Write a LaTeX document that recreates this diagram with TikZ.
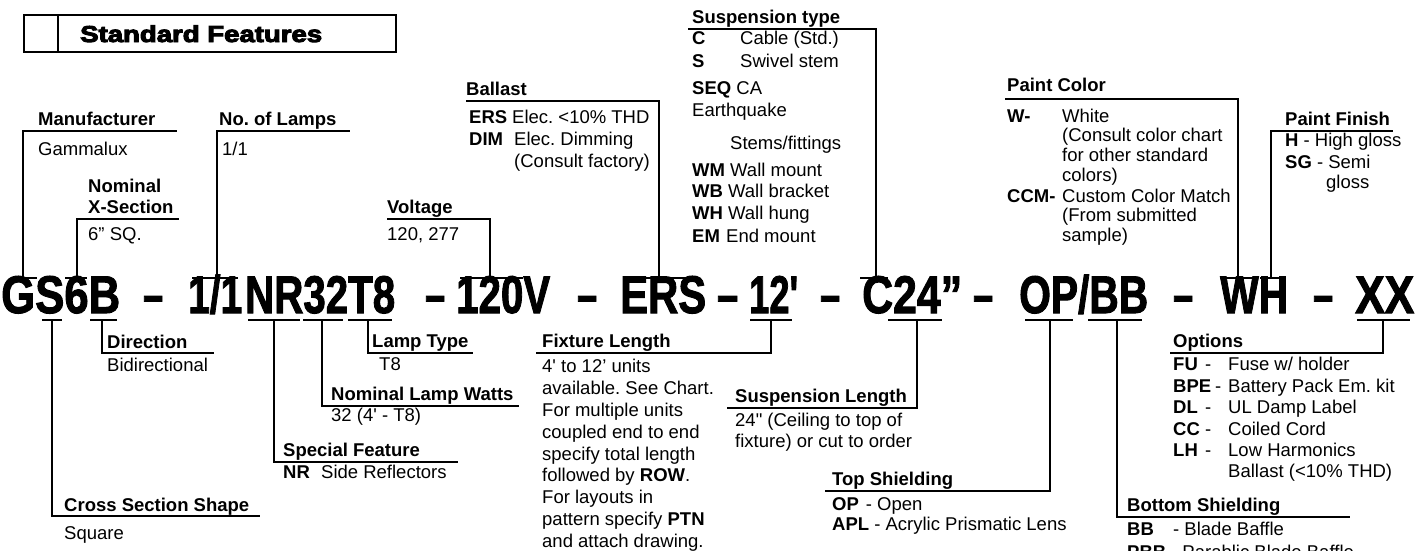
\documentclass[tikz,border=0pt]{standalone}
\usepackage{fontspec}
\setmainfont{Liberation Sans}
\newfontfamily\heavyfont{Liberation Sans Bold}[FakeBold=4]
\newfontfamily\codefam{Liberation Sans Bold}[FakeBold=2]
\usepackage{graphicx}
\frenchspacing
\newcommand\fs{\fontsize{18.5}{22}\selectfont}
\newcommand\codefont{\codefam\fontsize{53}{53}\selectfont}
\newcount\rwn
\newcommand\rw[3]{\global\advance\rwn by 1\relax\node[tx] (r\the\rwn) at (#1,#2) {#3};}
\newcommand\cs[4]{\node[anchor=base west,inner sep=0pt] (#1) at (#2,313) {\resizebox{\dimexpr #3pt-#2pt\relax}{\height}{\codefont #4}};}
\newcommand\mk[5]{\coordinate (#1) at (#4,#5); \draw[mline] (#2,#5) -- (#3,#5);}
\begin{document}
\frenchspacing
\begin{tikzpicture}[x=1pt,y=-1pt,
 lin/.style={line width=1.1pt},
 mline/.style={line width=1.3pt},
 hd/.style={anchor=base west,inner sep=0pt,font=\fs\bfseries},
 tx/.style={anchor=base west,inner sep=0pt,font=\fs}]
\useasboundingbox (0,0) rectangle (1428,550);
% title box
\node[draw,line width=2.4pt,minimum width=372pt,minimum height=37pt,anchor=north west,inner sep=0pt] (tbox) at (23,14) {};
\coordinate (tdivT) at (58,14); \coordinate (tdivB) at (58,51);
\draw[line width=2.2pt] (tdivT) -- (tdivB);
\node[anchor=base west,inner sep=0pt] (title) at (80,42) {\resizebox{242pt}{\height}{\heavyfont\fontsize{23}{23}\selectfont Standard Features}};
% code
\cs{cGS}{1}{120}{GS6B}
\cs{d1}{143}{163}{–}
\cs{c11}{188}{242}{1/1}
\cs{cNR}{245}{395}{NR32T8}
\cs{d2}{425}{445}{–}
\cs{cV}{456}{550}{120V}
\cs{d3}{577}{597}{–}
\cs{cE}{620}{706}{ERS}
\cs{d4}{717}{738}{–}
\cs{cL}{749}{798}{12\textquotesingle}
\cs{d5}{820}{840}{–}
\cs{cC}{862}{962}{C24”}
\cs{d6}{973}{993}{–}
\cs{cOP}{1019}{1148}{OP/BB}
\cs{d7}{1173}{1193}{–}
\cs{cWH}{1220}{1288}{WH}
\cs{d8}{1313}{1333}{–}
\cs{cXX}{1355}{1414}{XX}
% ---- top callouts
\mk{mMan}{12}{37}{23}{278}
\coordinate (eMan) at (177,131); \draw[lin] (mMan) |- (eMan);
\node[hd] (hMan) at (38,125) {Manufacturer};
\rw{38}{155}{Gammalux}

\mk{mNom}{65}{87}{77}{278}
\coordinate (eNom) at (179,219); \draw[lin] (mNom) |- (eNom);
\node[hd] (hNom1) at (88,192) {Nominal};
\node[hd] (hNom2) at (88,213) {X-Section};
\rw{88}{240}{6” SQ.}

\mk{mLamps}{192}{238}{217}{278}
\coordinate (eLamps) at (350,131); \draw[lin] (mLamps) |- (eLamps);
\node[hd] (hLamps) at (219,125) {No. of Lamps};
\rw{222}{155}{1/1}

\mk{mVolt}{460}{523}{490}{278}
\coordinate (eVolt) at (387,219); \draw[lin] (mVolt) |- (eVolt);
\node[hd] (hVolt) at (387,213) {Voltage};
\rw{387}{240}{120, 277}

\mk{mBal}{623}{695}{659}{278}
\coordinate (eBal) at (466,101); \draw[lin] (mBal) |- (eBal);
\node[hd] (hBal) at (466,95) {Ballast};
\rw{469}{123}{\bfseries ERS}
\rw{512}{123}{Elec. <10\% THD}
\rw{469}{145}{\bfseries DIM}
\rw{514}{145}{Elec. Dimming}
\rw{514}{167}{(Consult factory)}

\mk{mSus}{860}{888}{876}{278}
\coordinate (eSus) at (688,29); \draw[lin] (mSus) |- (eSus);
\node[hd] (hSus) at (692,23) {Suspension type};
\rw{692}{44}{\bfseries C}
\rw{740}{44}{Cable (Std.)}
\rw{692}{67}{\bfseries S}
\rw{740}{67}{Swivel stem}
\rw{692}{94}{\textbf{SEQ} CA}
\rw{692}{116}{Earthquake}
\rw{730}{149}{Stems/fittings}
\rw{692}{176}{\textbf{WM} Wall mount}
\rw{692}{197}{\textbf{WB} Wall bracket}
\rw{692}{219}{\textbf{WH} Wall hung}
\rw{692}{242}{\bfseries EM}
\rw{726}{242}{End mount}

\mk{mPC}{1220}{1255}{1238}{278}
\coordinate (ePC) at (1005,99); \draw[lin] (mPC) |- (ePC);
\node[hd] (hPC) at (1007,91) {Paint Color};
\rw{1007}{122}{\bfseries W-}
\rw{1062}{122}{White}
\rw{1062}{141}{(Consult color chart}
\rw{1062}{161}{for other standard}
\rw{1062}{181}{colors)}
\rw{1007}{202}{\bfseries CCM-}
\rw{1062}{202}{Custom Color Match}
\rw{1062}{221}{(From submitted}
\rw{1062}{241}{sample)}

\mk{mPF}{1260}{1282}{1271}{278}
\coordinate (ePF) at (1393,131); \draw[lin] (mPF) |- (ePF);
\node[hd] (hPF) at (1285,125) {Paint Finish};
\rw{1285}{146}{\textbf{H} - High gloss}
\rw{1285}{168}{\textbf{SG} - Semi}
\rw{1326}{188}{gloss}

% ---- bottom callouts
\mk{mCS}{42}{62}{52}{320}
\coordinate (eCS) at (260,516); \draw[lin] (mCS) |- (eCS);
\node[hd] (hCS) at (64,511) {Cross Section Shape};
\rw{64}{539}{Square}

\mk{mDir}{90}{117}{102}{320}
\coordinate (eDir) at (214,353); \draw[lin] (mDir) |- (eDir);
\node[hd] (hDir) at (107,348) {Direction};
\rw{107}{371}{Bidirectional}

\mk{mSF}{248}{300}{274}{320}
\coordinate (eSF) at (458,462); \draw[lin] (mSF) |- (eSF);
\node[hd] (hSF) at (283,456) {Special Feature};
\rw{283}{478}{\bfseries NR}
\rw{321}{478}{Side Reflectors}

\mk{mNLW}{303}{343}{322}{320}
\coordinate (eNLW) at (519,406); \draw[lin] (mNLW) |- (eNLW);
\node[hd] (hNLW) at (331,400) {Nominal Lamp Watts};
\rw{331}{421}{32 (4\textquotesingle{} - T8)}

\mk{mLT}{348}{392}{368}{320}
\coordinate (eLT) at (473,353); \draw[lin] (mLT) |- (eLT);
\node[hd] (hLT) at (372,347) {Lamp Type};
\rw{379}{370}{T8}

\mk{mFL}{750}{792}{771}{320}
\coordinate (eFL) at (536,353); \draw[lin] (mFL) |- (eFL);
\node[hd] (hFL) at (542,347) {Fixture Length};
\rw{542}{372}{4\textquotesingle{} to 12’ units}
\rw{542}{394}{available. See Chart.}
\rw{542}{416}{For multiple units}
\rw{542}{438}{coupled end to end}
\rw{542}{460}{specify total length}
\rw{542}{481}{followed by \textbf{ROW}.}
\rw{542}{503}{For layouts in}
\rw{542}{525}{pattern specify \textbf{PTN}}
\rw{542}{547}{and attach drawing.}

\mk{mSL}{888}{942}{917}{320}
\coordinate (eSL) at (727,408); \draw[lin] (mSL) |- (eSL);
\node[hd] (hSL) at (735,402) {Suspension Length};
\rw{735}{426}{24\textquotedbl{} (Ceiling to top of}
\rw{735}{447}{fixture) or cut to order}

\mk{mTS}{1025}{1073}{1050}{320}
\coordinate (eTS) at (825,491); \draw[lin] (mTS) |- (eTS);
\node[hd] (hTS) at (832,485) {Top Shielding};
\rw{832}{510}{\textbf{OP}\hspace{7pt}- Open}
\rw{832}{530}{\textbf{APL} - Acrylic Prismatic Lens}

\mk{mOpt}{1357}{1410}{1383}{320}
\coordinate (eOpt) at (1170,353); \draw[lin] (mOpt) |- (eOpt);
\node[hd] (hOpt) at (1173,347) {Options};
\rw{1173}{370}{\bfseries FU}
\rw{1205}{370}{-}
\rw{1228}{370}{Fuse w/ holder}
\rw{1173}{392}{\bfseries BPE}
\rw{1215}{392}{-}
\rw{1228}{392}{Battery Pack Em. kit}
\rw{1173}{413}{\bfseries DL}
\rw{1205}{413}{-}
\rw{1228}{413}{UL Damp Label}
\rw{1173}{435}{\bfseries CC}
\rw{1205}{435}{-}
\rw{1228}{435}{Coiled Cord}
\rw{1173}{456}{\bfseries LH}
\rw{1205}{456}{-}
\rw{1228}{456}{Low Harmonics}
\rw{1228}{477}{Ballast (<10\% THD)}

\mk{mBS}{1088}{1142}{1117}{320}
\coordinate (eBS) at (1350,517); \draw[lin] (mBS) |- (eBS);
\node[hd] (hBS) at (1127,511) {Bottom Shielding};
\rw{1127}{535}{\bfseries BB}
\rw{1173}{535}{- Blade Baffle}
\rw{1127}{558}{\bfseries PBB}
\rw{1171}{558}{- Parablic Blade Baffle}
\end{tikzpicture}
\end{document}
